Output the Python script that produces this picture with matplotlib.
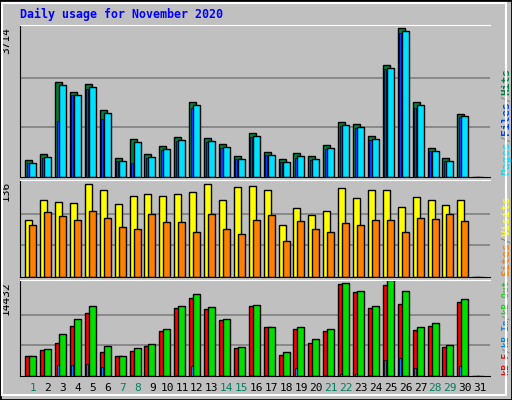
import matplotlib
matplotlib.use("Agg")
import matplotlib.pyplot as plt
from matplotlib.patches import Rectangle

days = list(range(1, 32))
weekend = [1, 7, 8, 14, 15, 21, 22, 28, 29]

# top panel (max 3714)
hits = [420, 570, 2380, 2130, 2330, 1660, 470, 940, 570, 770, 990, 1860, 960, 820, 520, 1090,
        620, 440, 600, 520, 790, 1360, 1310, 1010, 2800, 3714, 1860, 720, 470, 1580, 0]
files = [350, 480, 1390, 2050, 2200, 1450, 390, 350, 480, 680, 900, 1730, 880, 720, 440, 1000,
         540, 370, 480, 430, 700, 1280, 1230, 930, 2680, 3600, 1730, 640, 390, 1500, 0]
pages = [347, 495, 2303, 2055, 2253, 1585, 396, 867, 495, 693, 916, 1783, 891, 743, 446, 1015,
         545, 371, 520, 446, 718, 1288, 1238, 941, 2724, 3640, 1783, 644, 396, 1510, 0]
# middle panel (max 136)
visits = [81, 110, 107, 106, 133, 125, 104, 116, 119, 116, 119, 122, 133, 110, 129, 130,
          125, 75, 98, 88, 94, 127, 113, 125, 125, 100, 114, 110, 103, 110, 0]
sites = [75, 93, 87, 81, 94, 84, 72, 69, 90, 78, 78, 64, 90, 69, 62, 81,
         88, 52, 80, 68, 65, 77, 75, 81, 81, 64, 84, 83, 90, 80, 0]
# bottom panel (max 14432)
kb_f = [3150, 4250, 5300, 8150, 10100, 3800, 3250, 4000, 4900, 7200, 10950, 12550, 10800, 9050, 4450, 11300,
        7850, 3400, 7650, 5300, 7300, 14850, 13600, 10950, 14650, 11650, 7500, 8150, 4700, 11900, 0]
kb_in = [50, 200, 1850, 1850, 2000, 1400, 50, 200, 50, 200, 200, 1550, 200, 200, 50, 200,
         200, 50, 1250, 50, 200, 350, 350, 200, 2600, 2900, 1250, 200, 50, 1550, 0]
kb_out = [3200, 4400, 6800, 9200, 11350, 4800, 3300, 4600, 5150, 7550, 11300, 13200, 11150, 9200, 4650, 11500,
          7950, 3900, 7850, 5900, 7650, 15000, 13650, 11300, 15500, 13650, 7950, 8500, 5000, 12450, 0]

BG = "#C0C0C0"
W, H = 512, 400
fig = plt.figure(figsize=(W / 100, H / 100), dpi=100, facecolor=BG)
mono = "DejaVu Sans Mono"


def px_axes(x0, y0, x1, y1):
    return fig.add_axes([x0 / W, 1 - y1 / H, (x1 - x0) / W, (y1 - y0) / H])


def panel(y0, y1, ymax, back, mid, front, cols, label, labels_right):
    ax = px_axes(20, y0, 490, y1)
    ax.set_facecolor(BG)
    ax.set_xlim(0.13, 31.67)
    ax.set_ylim(0, ymax * 1.02)
    for g in (ymax / 3, 2 * ymax / 3):
        ax.axhline(g, color="#808080", lw=1.2, zorder=0)
    kw = dict(align="edge", edgecolor="black", linewidth=1, zorder=2)
    ax.bar([d - 0.52 for d in days], back, width=0.47, color=cols[0], **kw)
    if mid is not None:
        ax.bar([d - 0.42 for d in days], mid, width=0.14, color=cols[1], edgecolor="black", linewidth=0.5,
               align="edge", zorder=3)
    ax.bar([d - 0.25 for d in days], front, width=0.47, color=cols[2], **kw)
    ax.set_xticks([])
    ax.set_yticks([])
    for s in ax.spines.values():
        s.set_color("black")
    ax.spines["right"].set_visible(False)
    ax.spines["top"].set_color("white")
    ax.text(-0.03, 0.99, label, transform=ax.transAxes, rotation=90, ha="center", va="top",
            family=mono, fontsize=8)
    # right-side coloured legend text, bottom to top
    nchar = sum(len(t) for t, _ in labels_right)
    avail = (y1 - y0) - 2
    fs = min(8.0, avail / nchar / 0.602 * 0.72)
    step = fs / 0.72 * 0.602 / (y1 - y0)
    y = 0.01
    for txt, c in labels_right:
        ax.text(1.035, y, txt, transform=ax.transAxes, rotation=90, ha="center", va="bottom",
                family=mono, fontsize=fs, color=c, fontweight="bold")
        y += len(txt) * step
    return ax


panel(25, 177, 3714 * 1.0, hits, files, pages, ("#008040", "#0040FF", "#00E0FF"), "3714",
      [("Pages", "#00E0FF"), ("/", "#808080"), ("Files", "#0040FF"), ("/", "#808080"), ("Hits", "#008040")])
panel(180, 277, 136, visits, None, sites, ("#FFFF00", None, "#FF8000"), "136",
      [("Sites", "#FF8000"), ("/", "#808080"), ("Visits", "#FFFF00")])
ax3 = panel(280, 376, 14432 * 1.03, kb_f, kb_in, kb_out, ("#FF0000", "#0080FF", "#00E000"), "14432",
            [("kB F", "#FF0000"), ("/", "#808080"), ("kB In", "#0080FF"), ("/", "#808080"), ("kB Out", "#00E000")])
ax3.set_ylim(0, 15500)

for d in days:
    ax3.text(d, -0.12, str(d), transform=ax3.get_xaxis_transform(), ha="center", va="center",
             family=mono, fontsize=8, color="#008060" if d in weekend else "black")

fig.text(20 / W, 1 - 14 / H, "Daily usage for November 2020", family=mono, fontweight="bold",
         fontsize=8.4, color="#0000FF", va="center")

# bevelled frame
fig.patches.append(Rectangle((0, 0), 1, 1, transform=fig.transFigure, fill=False,
                             edgecolor="black", lw=2))
fig.patches.append(Rectangle((2 / W, 5 / H), (W - 8) / W, (H - 8) / H, transform=fig.transFigure,
                             fill=False, edgecolor="white", lw=1.5))

fig.savefig("out.png", dpi=100, facecolor=BG)
